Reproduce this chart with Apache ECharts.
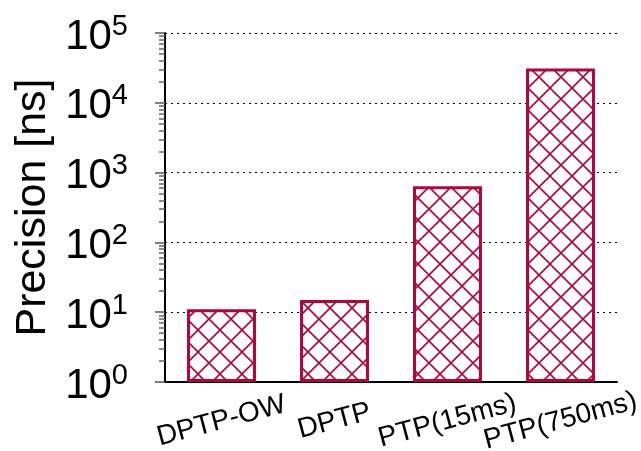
<!DOCTYPE html>
<html>
<head>
<meta charset="utf-8">
<script src="https://cdn.jsdelivr.net/npm/echarts@6/dist/echarts.min.js"></script>
<style>
  html, body { margin: 0; padding: 0; background: #fff; }
  #chart { width: 641px; height: 451px; }
</style>
</head>
<body>
<div id="chart"></div>
<script>
// 数据
var categories = ['DPTP-OW', 'DPTP', 'PTP(15ms)', 'PTP(750ms)'];
var precision = [11, 15, 640, 31000];
// 对数轴的次刻度 (2..9 每个数量级)
var minorTicks = [
    2, 3, 4, 5, 6, 7, 8, 9,
    20, 30, 40, 50, 60, 70, 80, 90,
    200, 300, 400, 500, 600, 700, 800, 900,
    2000, 3000, 4000, 5000, 6000, 7000, 8000, 9000,
    20000, 30000, 40000, 50000, 60000, 70000, 80000, 90000
];

var red = '#b0063a';
var font = 'Liberation Sans';

// 交叉斜线填充
function hatch(color) {
    var s = 22;
    var c = document.createElement('canvas');
    c.width = s;
    c.height = s;
    var g = c.getContext('2d');
    g.fillStyle = '#fff';
    g.fillRect(0, 0, s, s);
    g.strokeStyle = color;
    g.lineWidth = 1.6;
    g.beginPath();
    for (var k = -1; k <= 1; k++) {
        g.moveTo(k * s - 2, -2);
        g.lineTo(k * s + s + 2, s + 2);
        g.moveTo(k * s + s + 2, -2);
        g.lineTo(k * s - 2, s + 2);
    }
    g.stroke();
    return c;
}

var myChart = echarts.init(document.getElementById('chart'));

var option = {
    animation: false,
    grid: {
        left: 165,
        right: 24,
        top: 33,
        bottom: 69,
        outerBoundsMode: 'none'
    },
    xAxis: {
        type: 'category',
        data: categories,
        axisLine: { lineStyle: { color: '#000', width: 2 } },
        axisTick: {
            alignWithLabel: true,
            length: 11,
            lineStyle: { color: '#666', width: 1.5 }
        },
        axisLabel: {
            interval: 0,
            rotate: 15,
            align: 'center',
            verticalAlign: 'middle',
            margin: 39,
            fontFamily: font,
            fontSize: 28,
            color: '#000'
        }
    },
    yAxis: [{
        type: 'log',
        logBase: 10,
        min: 1,
        max: 100000,
        name: 'Precision [ns]',
        nameLocation: 'middle',
        nameGap: 95,
        nameTextStyle: { fontFamily: font, fontSize: 43, color: '#000' },
        axisLine: { show: true, lineStyle: { color: '#000', width: 2 } },
        axisTick: { show: true, length: 10, lineStyle: { color: '#555', width: 1.5 } },
        splitLine: {
            show: true,
            lineStyle: { color: '#000', width: 1, type: [2, 4] }
        },
        axisLabel: {
            margin: 37,
            formatter: function (v) {
                return '{a|10}{b|' + Math.round(Math.log10(v)) + '}';
            },
            rich: {
                a: { fontFamily: font, fontSize: 42, lineHeight: 42, padding: [8, 0, 0, 0], color: '#000' },
                b: { fontFamily: font, fontSize: 29, lineHeight: 29, verticalAlign: 'top', color: '#000' }
            }
        }
    }, {
        type: 'log',
        logBase: 10,
        min: 1,
        max: 100000,
        position: 'left',
        axisLine: { show: false },
        axisLabel: { show: false },
        splitLine: { show: false },
        axisTick: {
            show: true,
            length: 6,
            customValues: minorTicks,
            lineStyle: { color: '#666', width: 1.5 }
        }
    }],
    series: [{
        type: 'bar',
        data: precision,
        barWidth: '61%',
        itemStyle: {
            color: { image: hatch(red), repeat: 'repeat' },
            borderColor: red,
            borderWidth: 3
        }
    }]
};

myChart.setOption(option);
window.onresize = myChart.resize;
</script>
</body>
</html>
